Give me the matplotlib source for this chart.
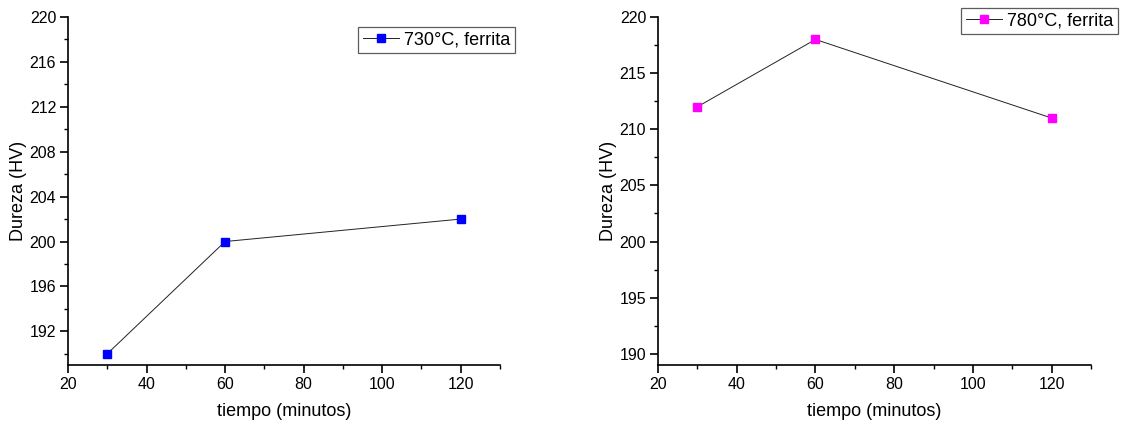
import matplotlib
matplotlib.use("Agg")
import matplotlib.pyplot as plt
from matplotlib.ticker import MultipleLocator

plt.rcParams['font.family'] = ['Liberation Sans', 'DejaVu Sans']

tiempo = [30, 60, 120]
dureza_730 = [190, 200, 202]
dureza_780 = [212, 218, 211]
label_730 = "730°C, ferrita"
label_780 = "780°C, ferrita"
xlabel = "tiempo (minutos)"
ylabel = "Dureza (HV)"

fig = plt.figure(figsize=(11.25, 4.26), dpi=100)
W, H = 1125, 426

def make_ax(x0, x1, y0, y1):
    return fig.add_axes([x0 / W, 1 - y1 / H, (x1 - x0) / W, (y1 - y0) / H])

ax1 = make_ax(68, 500, 17, 365)
ax2 = make_ax(658, 1091, 17, 365)

def style(ax, ymaj, ymin):
    for s in ['top', 'right']:
        ax.spines[s].set_visible(False)
    for s in ['left', 'bottom']:
        ax.spines[s].set_linewidth(1.2)
    ax.set_xlim(20, 130)
    ax.set_ylim(189, 220)
    ax.xaxis.set_major_locator(MultipleLocator(20))
    ax.xaxis.set_minor_locator(MultipleLocator(10))
    ax.yaxis.set_major_locator(MultipleLocator(ymaj))
    ax.yaxis.set_minor_locator(MultipleLocator(ymin))
    ax.tick_params(which='major', direction='out', length=5.5, width=1.2, labelsize=11.5, pad=3)
    ax.tick_params(which='minor', direction='out', length=3, width=1.0)
    ax.set_xlabel(xlabel, fontsize=13, labelpad=8)
    ax.set_ylabel(ylabel, fontsize=13, labelpad=2)

ax1.plot(tiempo, dureza_730, color='#222222', lw=0.7, marker='s', ms=6,
         mfc='#0000FF', mec='#0000FF', label=label_730, clip_on=False)
ax2.plot(tiempo, dureza_780, color='#222222', lw=0.7, marker='s', ms=6,
         mfc='#FF00FF', mec='#FF00FF', label=label_780, clip_on=False)

style(ax1, 4, 2)
ax1.set_yticks([192, 196, 200, 204, 208, 212, 216, 220])
style(ax2, 5, 2.5)

for ax, (xr, yt) in [(ax1, (515, 27)), (ax2, (1118, 8))]:
    leg = ax.legend(loc='upper right', bbox_to_anchor=(xr / W, 1 - yt / H),
                    bbox_transform=fig.transFigure, fontsize=13, frameon=True,
                    fancybox=False, edgecolor='#333333', borderpad=0.25,
                    handlelength=2.0, handletextpad=0.3, borderaxespad=0,
                    markerscale=0.9)
    leg.get_frame().set_linewidth(0.9)

fig.savefig('out.png', dpi=100)
